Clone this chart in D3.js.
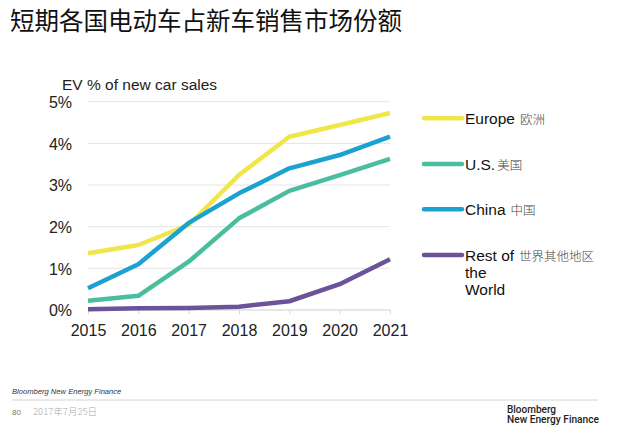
<!DOCTYPE html>
<html>
<head>
<meta charset="utf-8">
<script src="https://cdn.jsdelivr.net/npm/d3@7"></script>
<style>
  html, body { margin: 0; padding: 0; background: #fff; }
  svg { display: block; }
</style>
</head>
<body>
<svg id="chart" width="632" height="434"></svg>
<script>
const years = [2015, 2016, 2017, 2018, 2019, 2020, 2021];
const europe = [1.36, 1.56, 2.04, 3.24, 4.16, 4.44, 4.73];
const us = [0.22, 0.34, 1.16, 2.2, 2.86, 3.24, 3.63];
const china = [0.52, 1.1, 2.09, 2.8, 3.4, 3.72, 4.16];
const rest = [0.02, 0.04, 0.05, 0.08, 0.21, 0.62, 1.22];
const yTicks = [0, 1, 2, 3, 4, 5];
const seriesNames = ["Europe", "U.S.", "China", "Rest of the World"];
const seriesNamesCN = ["欧洲", "美国", "中国", "世界其他地区"];
const seriesColors = ["#f0e64a", "#4bbd9f", "#1ba2d1", "#6b5299"];

const series = [
  { name: seriesNames[0], cn: seriesNamesCN[0], color: seriesColors[0], values: europe },
  { name: seriesNames[1], cn: seriesNamesCN[1], color: seriesColors[1], values: us },
  { name: seriesNames[2], cn: seriesNamesCN[2], color: seriesColors[2], values: china },
  { name: seriesNames[3], cn: seriesNamesCN[3], color: seriesColors[3], values: rest }
];

const svg = d3.select("#chart");
const font = "Liberation Sans, Arial, sans-serif";
const cjk = "Noto Sans CJK SC, sans-serif";

const x = d3.scaleLinear().domain([2015, 2021]).range([88, 390]);
const y = d3.scaleLinear().domain([0, 5]).range([310, 101.7]);

// Title
svg.append("text")
  .attr("x", 10).attr("y", 30)
  .attr("font-family", cjk)
  .attr("font-size", 24.5)
  .attr("fill", "#111")
  .text("短期各国电动车占新车销售市场份额");

// Axis title
svg.append("text")
  .attr("x", 62).attr("y", 90)
  .attr("font-family", font)
  .attr("font-size", 15.5)
  .attr("fill", "#222")
  .text("EV % of new car sales");

// Gridlines
svg.append("g")
  .selectAll("line")
  .data(yTicks)
  .join("line")
  .attr("x1", 88).attr("x2", 390)
  .attr("y1", d => y(d)).attr("y2", d => y(d))
  .attr("stroke", d => d === 0 ? "#cfcfcf" : "#e4e4e4")
  .attr("stroke-width", 1);

// Y axis labels
const yAxis = d3.axisLeft(y).tickValues(yTicks).tickSize(0).tickPadding(0).tickFormat(d => d + "%");
const yg = svg.append("g").attr("transform", "translate(72,0)").call(yAxis);
yg.select(".domain").remove();
yg.selectAll("text")
  .attr("font-family", font)
  .attr("font-size", 16)
  .attr("fill", "#222")
  .attr("dy", "0.36em");

// X axis
const xAxis = d3.axisBottom(x).tickValues(years).tickSize(4).tickPadding(10).tickFormat(d3.format("d"));
const xg = svg.append("g").attr("transform", "translate(0,310)").call(xAxis);
xg.select(".domain").remove();
xg.selectAll(".tick line").attr("stroke", "#d8d8d8");
xg.selectAll("text")
  .attr("font-family", font)
  .attr("font-size", 16)
  .attr("fill", "#222")
  .attr("dy", "0.72em");

// Lines
const line = d3.line()
  .x((d, i) => x(years[i]))
  .y(d => y(d));

const drawOrder = [3, 1, 0, 2];
svg.append("g")
  .selectAll("path")
  .data(drawOrder.map(i => series[i]))
  .join("path")
  .attr("d", d => line(d.values))
  .attr("fill", "none")
  .attr("stroke", d => d.color)
  .attr("stroke-width", 4.5)
  .attr("stroke-linejoin", "round");

// Legend
const legendY = [118.3, 164, 209.3, 255];
const lg = svg.append("g");
series.forEach((s, i) => {
  lg.append("line")
    .attr("x1", 424).attr("x2", 462)
    .attr("y1", legendY[i]).attr("y2", legendY[i])
    .attr("stroke", s.color)
    .attr("stroke-width", 4.5)
    .attr("stroke-linecap", "round");
  const parts = s.name === "Rest of the World" ? ["Rest of", "the", "World"] : [s.name];
  parts.forEach((p, j) => {
    const t = lg.append("text")
      .attr("x", 465)
      .attr("y", legendY[i] + 5.5 + j * 17)
      .attr("font-family", font)
      .attr("font-size", 15.5)
      .attr("fill", "#111");
    t.append("tspan").text(p);
    if (j === 0) {
      t.append("tspan")
        .attr("dx", s.name === "U.S." ? 2 : 5)
        .attr("font-family", cjk)
        .attr("font-weight", 300)
        .attr("font-size", 12.5)
        .attr("fill", "#444")
        .text(s.cn);
    }
  });
});

// Footer
svg.append("text")
  .attr("x", 12).attr("y", 394)
  .attr("font-family", font)
  .attr("font-size", 7.6)
  .attr("font-style", "italic")
  .attr("fill", "#333")
  .text("Bloomberg New Energy Finance");

svg.append("line")
  .attr("x1", 12).attr("x2", 598)
  .attr("y1", 400).attr("y2", 400)
  .attr("stroke", "#d4d4d4")
  .attr("stroke-width", 1);

svg.append("text")
  .attr("x", 12).attr("y", 415)
  .attr("font-family", font)
  .attr("font-size", 8)
  .attr("fill", "#777")
  .text("80");

svg.append("text")
  .attr("x", 33).attr("y", 415)
  .attr("font-family", cjk)
  .attr("font-weight", 300)
  .attr("font-size", 9.5)
  .attr("fill", "#aaa")
  .text("2017年7月25日");

svg.append("text")
  .attr("x", 507).attr("y", 413.3)
  .attr("font-family", "Roboto, Liberation Sans, sans-serif")
  .attr("font-size", 10)
  .attr("font-weight", 500)
  .attr("fill", "#222")
  .text("Bloomberg");

svg.append("text")
  .attr("x", 507).attr("y", 422.8)
  .attr("font-family", "Roboto, Liberation Sans, sans-serif")
  .attr("font-size", 10)
  .attr("font-weight", 500)
  .attr("fill", "#222")
  .attr("textLength", 92)
  .attr("lengthAdjust", "spacingAndGlyphs")
  .text("New Energy Finance");
</script>
</body>
</html>
